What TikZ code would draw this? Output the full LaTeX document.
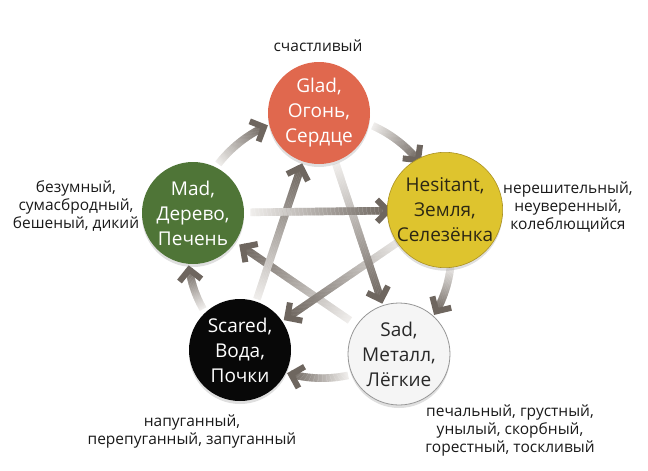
\documentclass[tikz,border=0pt]{standalone}
\usepackage{fontspec}
\setmainfont{Open Sans}
\usetikzlibrary{decorations.markings,shadows,calc}
\definecolor{gladc}{RGB}{224,104,78}
\definecolor{hesc}{RGB}{222,196,46}
\definecolor{hesb}{RGB}{170,145,35}
\definecolor{madc}{RGB}{79,117,55}
\definecolor{scac}{RGB}{8,8,8}
\definecolor{sadc}{RGB}{245,245,245}
\definecolor{sadb}{RGB}{150,150,150}
\definecolor{arrowdark}{RGB}{110,102,95}
\definecolor{arrowlight}{RGB}{240,238,236}
\definecolor{labtext}{RGB}{25,25,25}
\pgfdeclarelayer{bg}
\pgfsetlayers{bg,main}
\tikzset{
  elem/.style={circle, minimum size=102pt, inner sep=0pt, align=center,
    font=\fontsize{19}{25}\selectfont,
    drop shadow={opacity=.25, shadow xshift=0pt, shadow yshift=-3pt}},
  lab/.style={align=center, text=labtext, font=\fontsize{15.5}{18}\selectfont},
  gradarrow/.style n args={2}{
    decoration={markings,
      mark=between positions #1pt and -#2pt-4pt step 0.8pt with {
        \pgfmathsetmacro\fr{max(0,min(100,100*(\pgfkeysvalueof{/pgf/decoration/mark info/distance from start}-#1)/(\pgfdecoratedpathlength-#1-#2-4)))}
        \fill[arrowdark!\fr!arrowlight] (-0.55pt,-3.8pt) rectangle (0.55pt,3.8pt);
      },
      mark=at position -#2pt with {
        \draw[arrowdark, line width=6pt, line join=miter] (-15pt,11pt) -- (-4.2pt,0pt) -- (-15pt,-11pt);
      }
    },
    postaction={decorate}}
}
\begin{document}
\begin{tikzpicture}[x=1pt,y=-1pt]
\useasboundingbox (0,0) rectangle (648,471);
% circles
\node[elem, fill=gladc, text=white] (glad) at (319,113) {Glad,\\Огонь,\\Сердце};
\node[elem, fill=hesc, draw=hesb, line width=0.6pt, text={rgb,255:red,45;green,40;blue,20}] (hes) at (445,210) {Hesitant,\\Земля,\\Селезёнка};
\node[elem, fill=sadc, draw=sadb, line width=0.8pt, text={rgb,255:red,40;green,40;blue,40}] (sad) at (399,354) {Sad,\\Металл,\\Лёгкие};
\node[elem, fill=scac, text=white] (sca) at (240,350) {Scared,\\Вода,\\Почки};
\node[elem, fill=madc, text=white] (mad) at (193,213) {Mad,\\Дерево,\\Печень};
% labels
\node[lab] (lglad) at (318,46) {счастливый};
\node[lab] (lhes) at (568,207) {нерешительный,\\неуверенный,\\колеблющийся};
\node[lab] (lmad) at (76,206) {безумный,\\сумасбродный,\\бешеный, дикий};
\node[lab] (lsca) at (192,431) {напуганный,\\перепуганный, запуганный};
\node[lab] (lsad) at (510,430) {печальный, грустный,\\унылый, скорбный,\\горестный, тоскливый};
% arrows
\begin{pgfonlayer}{bg}
\path[gradarrow={56}{53}] (mad.center) to[bend left=34] (glad.center);
\path[gradarrow={56}{53}] (glad.center) to[bend left=34] (hes.center);
\path[gradarrow={56}{53}] (hes.center) to[bend left=34] (sad.center);
\path[gradarrow={56}{53}] (sad.center) to[bend left=34] (sca.center);
\path[gradarrow={56}{53}] (sca.center) to[bend left=34] (mad.center);
\path[gradarrow={60}{56}] (sad.center) -- (mad.center);
\path[gradarrow={50}{53}] (hes.center) -- (sca.center);
\path[gradarrow={54}{53}] (sca.center) -- (glad.center);
\path[gradarrow={54}{53}] (glad.center) -- (sad.center);
\path[gradarrow={58}{53}] (mad.center) -- (hes.center);
\end{pgfonlayer}
\end{tikzpicture}
\end{document}
